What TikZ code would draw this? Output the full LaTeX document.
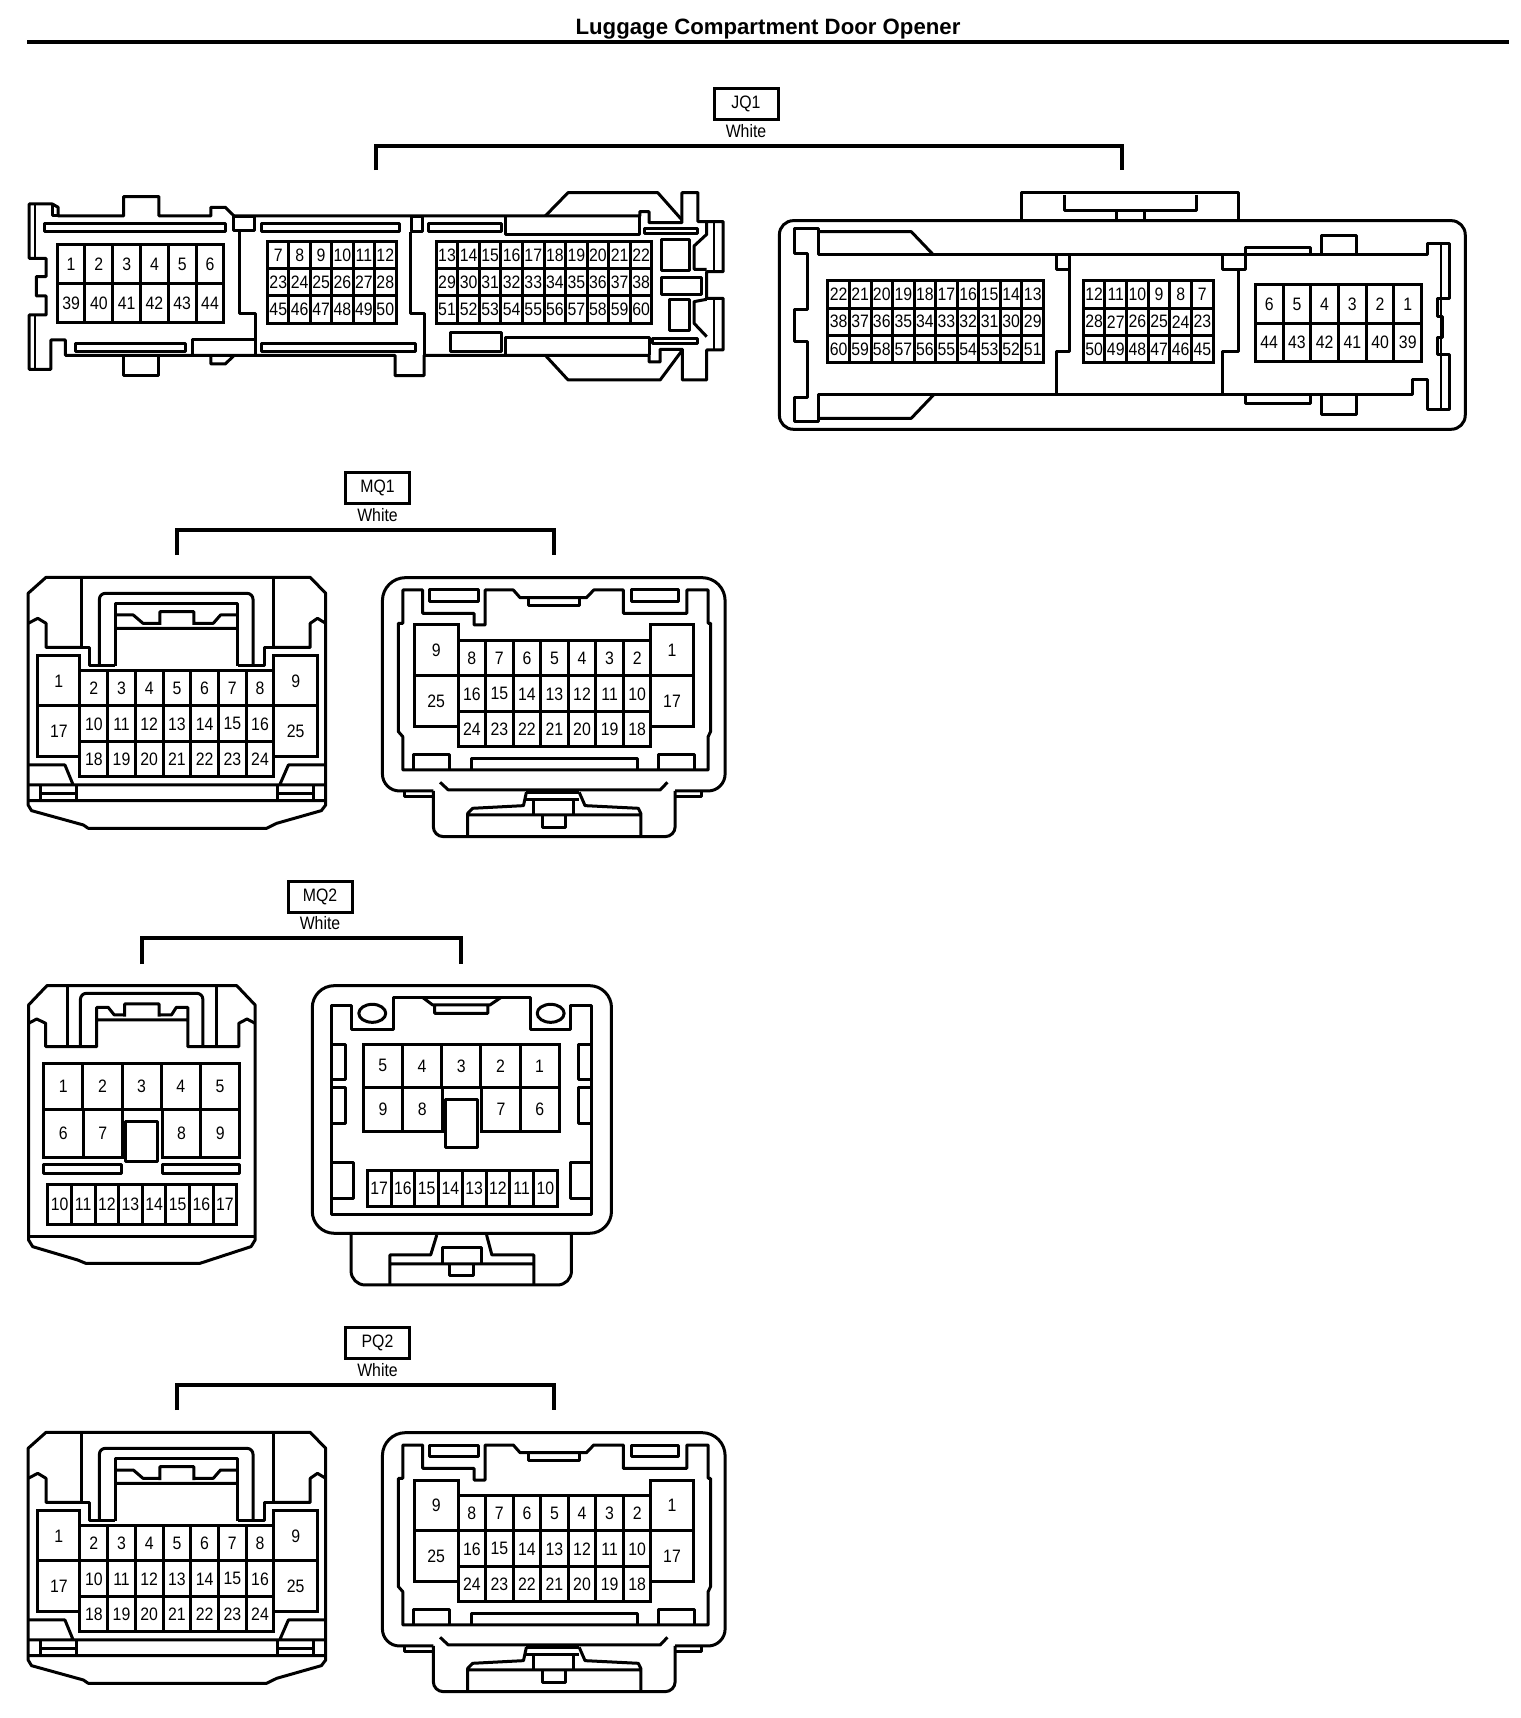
\documentclass[tikz,border=0pt]{standalone}
\usepackage{fontspec}
\setmainfont{Liberation Sans}
\newfontfamily\pinfont[FakeStretch=0.88]{Liberation Sans}
\usetikzlibrary{positioning}
\tikzset{hull/.style={line width=3pt, line join=round},
         thinhull/.style={line width=2pt, line join=round},
         pinline/.style={line width=3pt, line join=miter},
         pinlabel/.style={inner sep=0pt, font=\pinfont\fontsize{18}{18}\selectfont},
         tagbox/.style={draw, line width=3pt, minimum width=64pt, minimum height=31pt, inner sep=0pt, font=\pinfont\fontsize{18}{18}\selectfont},
         tagcolor/.style={inner sep=0pt, font=\pinfont\fontsize{18}{18}\selectfont},
         bracket/.style={line width=3.4pt, line join=miter},
         viewa/.style={x=0.4847pt, y=-0.3333pt},
         viewb/.style={x=0.4082pt, y=-0.3333pt}}
% one row of pins: name, x0, y0, x1, y1, columns, labels
\newcommand{\pinrow}[7]{%
    \draw[pinline] (#2,#3) rectangle (#4,#5);
    \foreach \pin [count=\c] in {#7} {
        \pgfmathsetmacro\cx{#2+(#4-#2)*(\c-.5)/#6}
        \pgfmathsetmacro\ex{#2+(#4-#2)*(\c-1)/#6}
        \pgfmathsetmacro\cy{(#3+#5)/2}
        \node[pinlabel] (#1-\pin) at (\cx,\cy) {\pin};
        \ifnum\c>1 \draw[pinline] (\ex,#3) -- (\ex,#5); \fi
    }%
}
\begin{document}
\begin{tikzpicture}[x=1pt, y=-1pt]
    \useasboundingbox (0,0) rectangle (1520,1718);

    \node[font=\bfseries\fontsize{22.2}{22}\selectfont, inner sep=0pt] (title) at (768,29) {Luggage Compartment Door Opener};
    \coordinate (barleft) at (27,42);
    \coordinate (barright) at (1509,42);
    \draw[line width=4.6pt] (barleft) -- (barright);

    % JQ1
    \node[tagbox] (JQ1) at (746,104) {JQ1};
    \node[tagcolor, below=3pt of JQ1] (JQ1color) {White};
    \coordinate (JQ1a) at (376,170);
    \coordinate (JQ1b) at (1122,170);
    \draw[bracket] (JQ1a) -- ++(0,-24) -| (JQ1b);

    \begin{scope}[viewa]
        \draw[hull] (60,612) -- (108,612) -- (120,622) -- (120,648) -- (255,648) -- (255,590) -- (328,590) -- (328,648) -- (435,648) -- (435,622) -- (465,622) -- (483,648) -- (1320,648) -- (1320,635) -- (1339,635) -- (1339,668) -- (1407,668) -- (1407,578) -- (1440,578) -- (1440,665) -- (1492,665) -- (1492,815) -- (1458,815) -- (1458,895) -- (1492,895) -- (1492,1050) -- (1458,1050) -- (1458,1140) -- (1408,1140) -- (1408,1048) -- (1362,1048) -- (1362,1086) -- (1339,1086) -- (1339,1066) -- (875,1066) -- (875,1127) -- (815,1127) -- (815,1066) -- (135,1066) -- (135,1020) -- (105,1020) -- (105,1108) -- (60,1108) -- (60,945) -- (95,945) -- (95,888) -- (75,888) -- (75,830) -- (95,830) -- (95,775) -- (60,775) -- cycle;
        \draw[thinhull] (72,612) -- (72,775) (72,945) -- (72,1108);
        \draw[hull] (108,616) -- (108,648) -- (120,648);
        \draw[hull] (1125,648) -- (1172,578) -- (1357,578) -- (1407,660);
        \draw[hull] (1125,1066) -- (1172,1140) -- (1362,1140) -- (1408,1050);
        \draw[hull] (255,1066) -- (255,1127) -- (328,1127) -- (328,1066);
        \draw[hull] (435,1066) -- (435,1092) -- (465,1092) -- (483,1066);
        \draw[hull] (92,670) rectangle (465,695) (155,1030) rectangle (382,1055) (540,670) rectangle (825,695) (540,1030) rectangle (857,1055) (885,672) rectangle (1035,695);
        \draw[hull] (1043,650) -- (1043,705) -- (1320,705) -- (1320,648) (930,998) rectangle (1035,1055) (1043,1066) -- (1043,1012) -- (1339,1012) -- (1339,1066);
        \draw[hull] (1330,685) rectangle (1440,700) (1346,1015) rectangle (1440,1030) (1365,720) rectangle (1422,812) (1365,833) rectangle (1448,885) (1382,900) rectangle (1422,992);
        \draw[hull] (482,650) rectangle (525,693) (850,650) rectangle (872,695);
        \draw[hull] (495,695) -- (495,940) -- (527,940) -- (527,1066) (847,695) -- (847,940) -- (875,940) -- (875,1066) (397,1066) -- (397,1020) -- (527,1020);
        \draw[hull] (1458,665) -- (1458,703) -- (1432,738) -- (1432,808) -- (1458,808) (1458,898) -- (1432,905) -- (1432,970) -- (1458,1010);
        \draw[thinhull] (1473,665) -- (1473,815) (1473,895) -- (1473,1050);
        \pinrow{la}{118}{735}{462}{851}{6}{1,2,3,4,5,6}
        \pinrow{la}{118}{851}{462}{968}{6}{39,40,41,42,43,44}
        \pinrow{la}{552}{725}{817}{807}{6}{7,8,9,10,11,12}
        \pinrow{la}{552}{807}{817}{888}{6}{23,24,25,26,27,28}
        \pinrow{la}{552}{888}{817}{970}{6}{45,46,47,48,49,50}
        \pinrow{la}{900}{725}{1345}{807}{10}{13,14,15,16,17,18,19,20,21,22}
        \pinrow{la}{900}{807}{1345}{888}{10}{29,30,31,32,33,34,35,36,37,38}
        \pinrow{la}{900}{888}{1345}{970}{10}{51,52,53,54,55,56,57,58,59,60}
    \end{scope}

    \begin{scope}[shift={(760,0)}, viewa]
        \draw[hull, rounded corners=14pt] (40,662) rectangle (1455,1288);
        \draw[hull] (540,662) -- (540,578) -- (988,578) -- (988,662) (628,585) -- (628,633) -- (900,633) -- (900,585) (735,633) -- (735,662) (793,633) -- (793,662);
        \draw[hull] (72,685) -- (120,685) -- (120,765) -- (1378,765) -- (1378,730) -- (1422,730) -- (1422,895) -- (1398,895) -- (1398,950) -- (1408,950) -- (1408,1012) -- (1398,1012) -- (1398,1065) -- (1422,1065) -- (1422,1228) -- (1378,1228) -- (1378,1138) -- (1347,1138) -- (1347,1185) -- (120,1185) -- (120,1265) -- (72,1265) -- (72,1192) -- (97,1192) -- (97,1025) -- (72,1025) -- (72,928) -- (97,928) -- (97,762) -- (72,762) -- cycle;
        \draw[thinhull] (1405,735) -- (1405,1225);
        \draw[hull] (120,695) -- (312,695) -- (358,765) (120,1255) -- (312,1255) -- (358,1185);
        \draw[hull] (612,765) -- (612,810) -- (638,810) -- (638,1055) -- (612,1055) -- (612,1185) (638,765) -- (638,810);
        \draw[hull] (955,765) -- (955,810) -- (1002,810) -- (1002,742) -- (1135,742) -- (1135,765) (988,810) -- (988,1055) -- (955,1055) -- (955,1185);
        \draw[hull] (1158,765) -- (1158,708) -- (1230,708) -- (1230,765) (1158,1185) -- (1158,1245) -- (1230,1245) -- (1230,1185) (1002,1185) -- (1002,1210) -- (1135,1210) -- (1135,1185);
        \pinrow{ra}{140}{843}{585}{925}{10}{22,21,20,19,18,17,16,15,14,13}
        \pinrow{ra}{140}{925}{585}{1006}{10}{38,37,36,35,34,33,32,31,30,29}
        \pinrow{ra}{140}{1006}{585}{1088}{10}{60,59,58,57,56,55,54,53,52,51}
        \pinrow{ra}{667}{843}{935}{925}{6}{12,11,10,9,8,7}
        \pinrow{ra}{667}{925}{935}{1006}{6}{28,27,26,25,24,23}
        \pinrow{ra}{667}{1006}{935}{1088}{6}{50,49,48,47,46,45}
        \pinrow{ra}{1022}{855}{1365}{970}{6}{6,5,4,3,2,1}
        \pinrow{ra}{1022}{970}{1365}{1085}{6}{44,43,42,41,40,39}
    \end{scope}

    % MQ1 and PQ2 are the same pair
    \foreach \tagname/\oy in {MQ1/0, PQ2/855} {
        \begin{scope}[shift={(0,\oy)}]
            \node[tagbox] (\tagname) at (377.5,488) {\tagname};
            \node[tagcolor, below=3pt of \tagname] (\tagname color) {White};
            \coordinate (\tagname a) at (177,555);
            \coordinate (\tagname b) at (554,555);
            \draw[bracket] (\tagname a) -- ++(0,-25) -| (\tagname b);

            \begin{scope}[shift={(0,460)}, viewa]
                \draw[hull] (58,1035) -- (58,400) -- (95,352) -- (640,352) -- (672,400) -- (672,1035) -- (663,1052) -- (571,1090) -- (550,1105) -- (182,1105) -- (172,1095) -- (65,1052) -- cycle;
                \draw[hull] (168,352) -- (168,562) (565,352) -- (565,562);
                \draw[hull, rounded corners=6pt] (205,618) -- (205,400) -- (522,400) -- (522,618);
                \draw[hull] (238,618) -- (238,430) -- (490,430) -- (490,618);
                \draw[hull] (168,562) -- (185,562) -- (185,618) -- (238,618) (490,618) -- (545,618) -- (545,562) -- (565,562);
                \draw[hull] (168,562) -- (95,562) -- (95,490) -- (78,475) -- (58,490) (565,562) -- (640,562) -- (640,490) -- (655,475) -- (672,490);
                \draw[hull] (238,465) -- (275,465) -- (295,490) -- (330,490) (330,495) -- (330,455) -- (400,455) -- (400,495) (238,505) -- (490,505) (490,465) -- (455,465) -- (440,490) -- (400,490);
                \pinrow{\tagname l}{78}{588}{165}{738}{1}{1}
                \pinrow{\tagname l}{78}{738}{165}{890}{1}{17}
                \pinrow{\tagname l}{565}{588}{655}{738}{1}{9}
                \pinrow{\tagname l}{565}{738}{655}{890}{1}{25}
                \pinrow{\tagname l}{165}{632}{565}{738}{7}{2,3,4,5,6,7,8}
                \pinrow{\tagname l}{165}{738}{565}{845}{7}{10,11,12,13,14,15,16}
                \pinrow{\tagname l}{165}{845}{565}{950}{7}{18,19,20,21,22,23,24}
                \draw[hull] (58,915) -- (134,915) -- (151,975) (672,915) -- (595,915) -- (577,975) (58,975) -- (672,975) (58,1022) -- (672,1022);
                \draw[hull] (83,975) -- (83,1022) (158,975) -- (158,1022) (83,1000) -- (158,1000) (572,975) -- (572,1022) (646,975) -- (646,1022) (572,1000) -- (646,1000);

                \draw[hull, rounded corners=17pt] (894,993) -- (789,993) [rounded corners=23pt] -- (789,353) -- (1496,353) [rounded corners=17pt] -- (1496,993) -- (1393,993);
                \draw[hull] (835,993) -- (835,1010) -- (894,1010) (1393,1010) -- (1447,1010) -- (1447,993);
                \draw[hull, rounded corners=10pt] (894,993) -- (894,1130) -- (1393,1130) -- (1393,993);
                \draw[hull] (831,390) -- (872,390) -- (872,460) -- (978,460) -- (978,495) -- (1001,495) -- (1001,390) -- (1059,390) -- (1073,413) -- (1210,413) -- (1225,390) -- (1286,390) -- (1286,460) -- (1417,460) -- (1417,390) -- (1461,390) -- (1461,490) -- (1466,490) -- (1466,815) -- (1461,830) -- (1461,930) -- (831,930) -- (831,830) -- (822,815) -- (822,490) -- (831,490) -- cycle;
                \draw[hull] (887,390) rectangle (987,425) (1303,390) rectangle (1399,425) (1090,413) rectangle (1196,437);
                \draw[hull] (853,930) -- (853,885) -- (928,885) -- (928,930) (972,930) -- (972,895) -- (1315,895) -- (1315,930) (1358,930) -- (1358,885) -- (1432,885) -- (1432,930);
                \pinrow{\tagname r}{855}{495}{945}{648}{1}{9}
                \pinrow{\tagname r}{855}{648}{945}{800}{1}{25}
                \pinrow{\tagname r}{1343}{495}{1430}{648}{1}{1}
                \pinrow{\tagname r}{1343}{648}{1430}{800}{1}{17}
                \pinrow{\tagname r}{945}{542}{1343}{648}{7}{8,7,6,5,4,3,2}
                \pinrow{\tagname r}{945}{648}{1343}{755}{7}{16,15,14,13,12,11,10}
                \pinrow{\tagname r}{945}{755}{1343}{860}{7}{24,23,22,21,20,19,18}
                \draw[hull] (908,967) -- (925,990) -- (1362,990) -- (1377,967);
                \draw[hull] (1086,997) -- (1080,1037) -- (975,1045) -- (965,1060) -- (965,1130) (1195,997) -- (1207,1037) -- (1317,1045) -- (1322,1060) -- (1322,1130) (965,1065) -- (1322,1065);
                \draw[hull] (1086,997) -- (1195,997) (1086,1020) -- (1195,1020) (1100,1020) -- (1100,1065) (1184,1020) -- (1184,1065) (1119,1065) -- (1119,1103) -- (1166,1103) -- (1166,1065);
            \end{scope}
        \end{scope}
    }

    % MQ2
    \node[tagbox] (MQ2) at (320,896.5) {MQ2};
    \node[tagcolor, below=3pt of MQ2] (MQ2color) {White};
    \coordinate (MQ2a) at (142,964);
    \coordinate (MQ2b) at (461,964);
    \draw[bracket] (MQ2a) -- ++(0,-26) -| (MQ2b);

    \begin{scope}[shift={(0,870)}, viewb]
        \draw[hull] (70,1110) -- (70,405) -- (115,347) -- (580,347) -- (625,405) -- (625,1110) -- (615,1130) -- (490,1180) -- (210,1180) -- (190,1170) -- (80,1130) -- cycle;
        \draw[hull] (70,1100) -- (625,1100) (165,352) -- (165,530) (530,352) -- (530,530);
        \draw[hull, rounded corners=6pt] (197,530) -- (197,370) -- (497,370) -- (497,530);
        \draw[hull] (70,460) -- (90,447) -- (112,460) -- (112,530) -- (237,530) -- (237,412) -- (265,412) -- (280,435) -- (305,435) (305,440) -- (305,402) -- (390,402) -- (390,440) (390,435) -- (420,435) -- (432,412) -- (460,412) -- (460,530) -- (585,530) -- (585,460) -- (605,447) -- (625,460) (237,450) -- (460,450);
        \pinrow{ml}{107}{580}{587}{720}{5}{1,2,3,4,5}
        \pinrow{ml}{107}{720}{300}{862}{2}{6,7}
        \pinrow{ml}{397}{720}{587}{862}{2}{8,9}
        \draw[hull, fill=white] (307,755) rectangle (387,875);
        \draw[hull] (107,885) rectangle (297,912) (397,885) rectangle (587,912);
        \pinrow{ml}{117}{945}{580}{1063}{8}{10,11,12,13,14,15,16,17}

        \draw[hull, rounded corners=22pt] (765,347) rectangle (1498,1090);
        \draw[hull, rounded corners=14pt] (860,1092) -- (860,1245) -- (1400,1245) -- (1400,1092);
        \draw[hull] (812,407) -- (860,407) -- (860,478) -- (963,478) -- (963,382) -- (1300,382) -- (1300,478) -- (1397,478) -- (1397,407) -- (1448,407) -- (1448,1033) -- (812,1033) -- cycle;
        \draw[hull] (1035,382) -- (1060,405) -- (1200,405) -- (1228,382) (1065,405) rectangle (1195,430);
        \draw[hull] (912,430) ellipse (33 and 27) (1349,430) ellipse (33 and 27);
        \draw[hull] (812,525) -| (847,628) -- (812,628) (812,652) -| (847,760) -- (812,760) (1448,525) -| (1416,628) -- (1448,628) (1448,652) -| (1416,760) -- (1448,760) (812,878) -| (865,985) -- (812,985) (1448,878) -| (1397,985) -- (1448,985);
        \pinrow{mr}{890}{523}{1370}{652}{5}{5,4,3,2,1}
        \pinrow{mr}{890}{652}{1083}{785}{2}{9,8}
        \pinrow{mr}{1180}{652}{1370}{785}{2}{7,6}
        \draw[hull, fill=white] (1092,688) rectangle (1170,832);
        \pinrow{mr}{900}{902}{1365}{1010}{8}{17,16,15,14,13,12,11,10}
        \draw[hull] (1070,1095) -- (1055,1155) -- (955,1155) -- (955,1245) (1192,1095) -- (1205,1155) -- (1308,1155) -- (1308,1245) (955,1182) -- (1308,1182);
        \draw[hull] (1083,1155) -- (1083,1133) -- (1180,1133) -- (1180,1182) (1083,1155) -- (1083,1182) (1102,1182) -- (1102,1218) -- (1160,1218) -- (1160,1182);
    \end{scope}
\end{tikzpicture}
\end{document}
